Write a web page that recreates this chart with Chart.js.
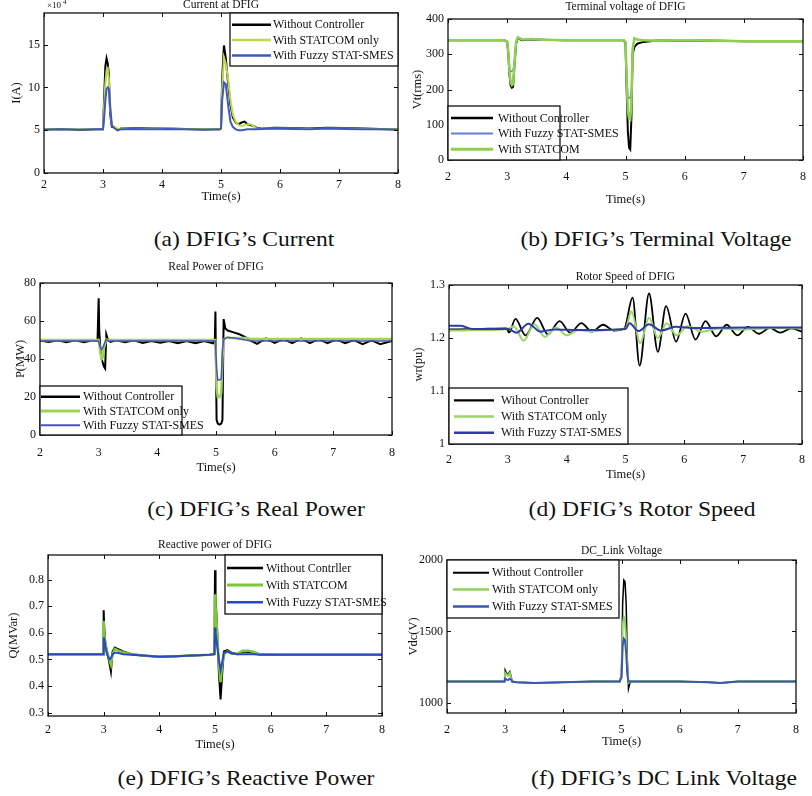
<!DOCTYPE html>
<html>
<head>
<meta charset="utf-8">
<title>DFIG responses</title>
<script src="https://cdn.jsdelivr.net/npm/chart.js@4.4.1/dist/chart.umd.min.js"></script>
<style>
  body { margin: 0; width: 812px; height: 796px; overflow: hidden; background: #fff; position: relative; font-family: "Liberation Serif", serif; }
  canvas { position: absolute; }
  .cap { position: absolute; font-size: 22px; color: #111; white-space: nowrap; transform: translate(-50%, -50%) scaleX(1.07); }
</style>
</head>
<body>
<div class="cap" style="left:244px;top:239px">(a) DFIG’s Current</div>
<div class="cap" style="left:656px;top:239px">(b) DFIG’s Terminal Voltage</div>
<div class="cap" style="left:256px;top:509px">(c) DFIG’s Real Power</div>
<div class="cap" style="left:642px;top:509px">(d) DFIG’s Rotor Speed</div>
<div class="cap" style="left:246px;top:778px">(e) DFIG’s Reactive Power</div>
<div class="cap" style="left:664px;top:778px">(f) DFIG’s DC Link Voltage</div>
<script>
// shared x axis
const timeTicks = [2, 3, 4, 5, 6, 7, 8];

// (a) current at DFIG, in 1e4 A
const curT = [2, 2.3, 2.6, 2.9, 3.0, 3.02, 3.04, 3.06, 3.08, 3.1, 3.12, 3.15, 3.2, 3.25, 3.3, 3.5, 3.8, 4.1, 4.4, 4.7, 4.98, 5.0, 5.02, 5.05, 5.08, 5.12, 5.16, 5.2, 5.25, 5.3, 5.35, 5.4, 5.45, 5.5, 5.55, 5.6, 5.7, 5.9, 6.2, 6.5, 6.8, 7.1, 7.4, 7.7, 8.0];
const curNoCtrl = [5.1, 5.15, 5.05, 5.1, 5.1, 9.0, 12.5, 13.4, 12.8, 11.5, 7.0, 5.4, 5.3, 5.0, 5.2, 5.25, 5.2, 5.2, 5.15, 5.1, 5.1, 5.2, 11.0, 14.9, 13.5, 10.5, 8.0, 6.5, 5.9, 5.7, 5.9, 6.0, 5.7, 5.6, 5.5, 5.3, 5.2, 5.3, 5.25, 5.2, 5.3, 5.25, 5.2, 5.15, 5.1];
const curStatcom = [5.1, 5.1, 5.1, 5.1, 5.1, 8.0, 10.5, 12.0, 12.2, 11.0, 7.5, 5.6, 5.4, 5.1, 5.2, 5.2, 5.15, 5.2, 5.1, 5.1, 5.1, 5.2, 10.0, 13.5, 12.8, 11.0, 8.5, 6.8, 6.0, 5.6, 5.5, 5.6, 5.7, 5.7, 5.5, 5.2, 5.2, 5.2, 5.2, 5.15, 5.2, 5.2, 5.15, 5.1, 5.1];
const curFuzzy = [5.05, 5.1, 5.05, 5.1, 5.1, 6.5, 8.5, 9.8, 10.0, 9.8, 8.0, 5.5, 5.2, 5.0, 5.1, 5.15, 5.1, 5.15, 5.1, 5.05, 5.1, 5.2, 8.5, 10.6, 10.4, 8.0, 6.0, 5.4, 5.1, 5.0, 5.0, 5.05, 5.1, 5.1, 5.1, 5.1, 5.15, 5.2, 5.15, 5.1, 5.2, 5.15, 5.1, 5.1, 5.05];
const curTicks = [0, 5, 10, 15];

// (b) terminal voltage, V rms
const vtT = [2, 2.5, 2.95, 3.0, 3.02, 3.04, 3.06, 3.08, 3.1, 3.12, 3.15, 3.18, 3.25, 3.4, 3.6, 4.0, 4.5, 4.97, 5.0, 5.02, 5.04, 5.06, 5.08, 5.1, 5.12, 5.15, 5.2, 5.3, 5.5, 5.8, 6.2, 6.6, 7.0, 7.5, 8];
const vtNoCtrl = [340, 340, 340, 335, 300, 240, 210, 205, 208, 260, 330, 345, 340, 342, 341, 340, 340, 340, 330, 200, 80, 35, 30, 120, 300, 320, 330, 335, 338, 340, 339, 338, 337, 337, 337];
const vtFuzzy = [340, 340, 340, 338, 310, 262, 250, 252, 255, 275, 330, 345, 341, 342, 341, 340, 340, 340, 335, 240, 180, 175, 178, 200, 320, 343, 342, 340, 339, 341, 340, 338, 337, 337, 337];
const vtStatcom = [340, 340, 340, 336, 305, 250, 220, 212, 215, 265, 335, 348, 342, 343, 341, 340, 340, 340, 335, 230, 140, 118, 115, 160, 310, 345, 342, 340, 338, 340, 340, 338, 337, 337, 337];
const vtTicks = [0, 100, 200, 300, 400];

// (c) real power, MW
const pT = [2, 2.15, 2.3, 2.45, 2.6, 2.75, 2.9, 2.98, 3.0, 3.01, 3.03, 3.05, 3.07, 3.09, 3.11, 3.13, 3.16, 3.2, 3.3, 3.45, 3.6, 3.75, 3.9, 4.05, 4.2, 4.35, 4.5, 4.65, 4.8, 4.95, 4.98, 4.99, 5.01, 5.03, 5.06, 5.09, 5.11, 5.13, 5.16, 5.2, 5.3, 5.4, 5.5, 5.6, 5.7, 5.85, 6.0, 6.15, 6.3, 6.45, 6.6, 6.75, 6.9, 7.05, 7.2, 7.35, 7.5, 7.65, 7.8, 8.0];
const pNoCtrl = [49.8, 49, 49.8, 48.8, 49.8, 48.8, 49.8, 49.5, 72, 55, 45, 40, 38, 36, 35, 53, 50, 49, 49.8, 48.8, 49.8, 48.5, 49.5, 48.5, 49.5, 48.3, 49.5, 48.3, 49.5, 48.3, 50, 65, 8, 6, 5.5, 6, 8, 61, 56, 55, 54, 53, 51.5, 49.5, 48, 50.8, 48.5, 50.5, 48.3, 50.8, 48.3, 50.5, 48.3, 50.3, 48.3, 50, 47.8, 49.8, 47.8, 49.5];
const pStatcom = [50, 50, 50, 50, 50, 50, 50, 50, 50, 48, 43, 40, 41, 46, 48, 50.5, 50, 50, 50, 50, 50, 50, 50, 50, 50, 50, 50, 50, 50, 50, 50, 50, 25, 20, 20, 22, 40, 50, 51, 51, 51, 51, 51, 50.5, 50.5, 50.5, 50.5, 50.5, 50.5, 50.5, 50.5, 50.5, 50.5, 50.5, 50.5, 50.5, 50.5, 50.5, 50.5, 50.5];
const pFuzzy = [49.5, 49.5, 49.5, 49.5, 49.5, 49.5, 49.5, 49.5, 49.5, 48, 46, 45, 46, 47.5, 49, 50.5, 49.5, 49.5, 49.5, 49.5, 49.5, 49.5, 49.5, 49.5, 49.5, 49.5, 49.5, 49.5, 49.5, 49.5, 49.5, 49.5, 35, 29, 29, 29.5, 45, 50, 51, 51.5, 51, 50.5, 50, 49.5, 49.5, 49.5, 49.5, 49.5, 49.5, 49.5, 49.5, 49.5, 49.5, 49.5, 49.5, 49.5, 49.5, 49.5, 49.5, 49.5];
const pTicks = [0, 20, 40, 60, 80];

// (d) rotor speed, pu (peaks and troughs)
const wNoCtrlT = [2, 2.5, 2.98, 3.02, 3.13, 3.3, 3.5, 3.68, 3.88, 4.06, 4.25, 4.43, 4.62, 4.8, 4.98, 5.12, 5.24, 5.4, 5.55, 5.69, 5.86, 6.02, 6.19, 6.36, 6.54, 6.72, 6.9, 7.08, 7.27, 7.45, 7.63, 7.82, 8.0];
const wNoCtrl = [1.216, 1.217, 1.218, 1.21, 1.236, 1.205, 1.238, 1.207, 1.232, 1.21, 1.228, 1.212, 1.225, 1.214, 1.218, 1.276, 1.148, 1.284, 1.174, 1.26, 1.193, 1.246, 1.197, 1.232, 1.203, 1.225, 1.205, 1.221, 1.208, 1.219, 1.21, 1.218, 1.212];
const wStatcomT = [2, 2.5, 3.0, 3.1, 3.27, 3.45, 3.63, 3.82, 4.0, 4.2, 4.4, 4.7, 5.0, 5.1, 5.25, 5.4, 5.55, 5.7, 5.87, 6.05, 6.3, 6.6, 7.0, 7.5, 8];
const wStatcom = [1.214, 1.215, 1.217, 1.222, 1.195, 1.226, 1.202, 1.22, 1.205, 1.215, 1.212, 1.215, 1.218, 1.25, 1.19, 1.238, 1.2, 1.228, 1.205, 1.222, 1.212, 1.218, 1.216, 1.219, 1.218];
const wFuzzyT = [2, 2.2, 2.4, 3.0, 3.15, 3.35, 3.55, 3.8, 4.2, 5.0, 5.07, 5.22, 5.4, 5.6, 5.85, 6.2, 7, 8];
const wFuzzy = [1.223, 1.223, 1.217, 1.217, 1.21, 1.227, 1.212, 1.216, 1.215, 1.217, 1.228, 1.213, 1.226, 1.214, 1.221, 1.219, 1.22, 1.22];
const wTicks = [1, 1.1, 1.2, 1.3];

// (e) reactive power, MVar
const qT = [2, 2.99, 3.0, 3.01, 3.03, 3.06, 3.1, 3.13, 3.16, 3.2, 3.25, 3.35, 3.5, 3.7, 4.0, 4.3, 4.6, 4.9, 4.99, 5.0, 5.01, 5.04, 5.07, 5.1, 5.13, 5.16, 5.22, 5.3, 5.4, 5.5, 5.6, 5.7, 5.8, 6.2, 8];
const qNoCtrl = [0.52, 0.52, 0.685, 0.62, 0.56, 0.53, 0.49, 0.455, 0.53, 0.545, 0.54, 0.53, 0.52, 0.515, 0.51, 0.512, 0.515, 0.518, 0.52, 0.835, 0.74, 0.6, 0.45, 0.35, 0.45, 0.53, 0.535, 0.525, 0.52, 0.53, 0.528, 0.525, 0.52, 0.518, 0.518];
const qStatcom = [0.52, 0.52, 0.645, 0.6, 0.56, 0.53, 0.5, 0.48, 0.52, 0.54, 0.535, 0.527, 0.52, 0.515, 0.51, 0.512, 0.515, 0.518, 0.52, 0.745, 0.7, 0.6, 0.48, 0.415, 0.48, 0.52, 0.53, 0.522, 0.522, 0.533, 0.533, 0.528, 0.52, 0.518, 0.518];
const qFuzzy = [0.52, 0.52, 0.58, 0.58, 0.55, 0.52, 0.5, 0.505, 0.52, 0.525, 0.525, 0.52, 0.518, 0.515, 0.51, 0.512, 0.515, 0.518, 0.52, 0.62, 0.6, 0.55, 0.5, 0.46, 0.49, 0.525, 0.53, 0.523, 0.52, 0.52, 0.52, 0.52, 0.518, 0.518, 0.518];
const qTicks = [0.3, 0.4, 0.5, 0.6, 0.7, 0.8];

// (f) DC link voltage, V
const vdcT = [2, 2.99, 3.0, 3.02, 3.05, 3.08, 3.1, 3.12, 3.2, 3.5, 4.0, 4.5, 4.97, 5.0, 5.02, 5.04, 5.06, 5.08, 5.1, 5.12, 5.15, 5.2, 5.5, 6.0, 6.5, 6.7, 7.0, 8];
const vdcNoCtrl = [1150, 1150, 1230, 1210, 1200, 1220, 1190, 1150, 1145, 1140, 1145, 1150, 1150, 1200, 1700, 1860, 1850, 1700, 1300, 1100, 1150, 1150, 1150, 1150, 1145, 1140, 1150, 1150];
const vdcStatcom = [1150, 1150, 1210, 1200, 1190, 1210, 1180, 1150, 1145, 1140, 1145, 1150, 1150, 1200, 1550, 1600, 1580, 1450, 1250, 1140, 1150, 1150, 1150, 1150, 1145, 1140, 1150, 1150];
const vdcFuzzy = [1150, 1150, 1170, 1165, 1160, 1170, 1165, 1150, 1145, 1140, 1145, 1150, 1150, 1180, 1400, 1450, 1440, 1350, 1200, 1150, 1150, 1150, 1150, 1150, 1145, 1140, 1150, 1150];
const vdcTicks = [1000, 1500, 2000];

const SERIF = '"Liberation Serif", "Times New Roman", serif';
const INK = '#111';
const X_AXIS_H = 54;

function pts(t, v) {
    return t.map((x, i) => ({x: x, y: v[i]}));
}

// matlab look: boxed axes, inward ticks, title, legend inside the axes
const matlabAxes = {
    id: 'matlabAxes',
    afterDraw(chart, args, o) {
        const {ctx, chartArea: a, scales: {x, y}} = chart;
        ctx.save();
        ctx.strokeStyle = INK;
        ctx.lineWidth = 1;
        ctx.beginPath();
        x.ticks.forEach(t => {
            const px = Math.round(x.getPixelForValue(t.value)) + 0.5;
            ctx.moveTo(px, a.bottom); ctx.lineTo(px, a.bottom - 4);
            ctx.moveTo(px, a.top); ctx.lineTo(px, a.top + 4);
        });
        y.ticks.forEach(t => {
            const py = Math.round(y.getPixelForValue(t.value)) + 0.5;
            ctx.moveTo(a.left, py); ctx.lineTo(a.left + 4, py);
            ctx.moveTo(a.right, py); ctx.lineTo(a.right - 4, py);
        });
        ctx.stroke();
        ctx.lineWidth = 1.3;
        ctx.strokeRect(a.left, a.top, a.right - a.left, a.bottom - a.top);

        ctx.fillStyle = INK;
        ctx.font = '11.5px ' + SERIF;
        ctx.textAlign = 'center';
        ctx.textBaseline = 'middle';
        ctx.fillText(o.title, (a.left + a.right) / 2, a.top - o.titleGap);

        if (o.exponent) {
            ctx.textAlign = 'left';
            ctx.font = '9px ' + SERIF;
            ctx.fillText('×10', a.left + 3, a.top - 7);
            ctx.font = '7px ' + SERIF;
            ctx.fillText(o.exponent, a.left + 19, a.top - 11);
        }

        const lg = o.legend;
        const bx = lg.at[1] === 'r' ? a.right - lg.w : a.left;
        const by = lg.at[0] === 'b' ? a.bottom - lg.h : a.top;
        ctx.fillStyle = '#fff';
        ctx.fillRect(bx, by, lg.w, lg.h);
        ctx.lineWidth = 1.3;
        ctx.strokeRect(bx, by, lg.w, lg.h);
        ctx.font = '12px ' + SERIF;
        ctx.textAlign = 'left';
        chart.data.datasets.forEach((ds, i) => {
            const ry = by + lg.h * (0.22 + 0.29 * i);
            ctx.strokeStyle = ds.borderColor;
            ctx.lineWidth = ds.borderWidth + 0.5;
            ctx.beginPath();
            ctx.moveTo(bx + lg.start, ry);
            ctx.lineTo(bx + lg.start + lg.len, ry);
            ctx.stroke();
            ctx.fillStyle = INK;
            ctx.fillText(ds.label, bx + lg.text, ry + 0.5);
        });
        ctx.restore();
    }
};

const panels = [
    {
        L: 44, R: 400, T: 13, B: 173, title: 'Current at DFIG', titleGap: 8, exponent: '4',
        yTitle: 'I(A)', yTitleX: 17, yMin: 0, yMax: 18.7, yTicks: curTicks, xPad: 5, xTitleY: 197,
        legend: {at: 'tr', w: 168, h: 53, start: 2, len: 39, text: 43},
        series: [
            {label: 'Without Controller', t: curT, v: curNoCtrl, color: '#000000', width: 2, order: 3},
            {label: 'With STATCOM only', t: curT, v: curStatcom, color: '#bcd94c', width: 2, order: 2},
            {label: 'With Fuzzy STAT-SMES', t: curT, v: curFuzzy, color: '#3f58c0', width: 2, order: 1}
        ]
    },
    {
        L: 448, R: 810, T: 19, B: 160, title: 'Terminal voltage of DFIG', titleGap: 12,
        yTitle: 'Vt(rms)', yTitleX: 418, yMin: 0, yMax: 400, yTicks: vtTicks, xPad: 10, xTitleY: 200,
        legend: {at: 'bl', w: 112, h: 54, start: 3, len: 42, text: 50},
        series: [
            {label: 'Without Controller', t: vtT, v: vtNoCtrl, color: '#000000', width: 2, order: 3},
            {label: 'With Fuzzy STAT-SMES', t: vtT, v: vtFuzzy, color: '#6680d4', width: 1.5, order: 2},
            {label: 'With STATCOM', t: vtT, v: vtStatcom, color: '#8fd14f', width: 2.5, order: 1}
        ]
    },
    {
        L: 40, R: 400, T: 283, B: 435, title: 'Real Power of DFIG', titleGap: 16,
        yTitle: 'P(MW)', yTitleX: 21, yMin: 0, yMax: 80, yTicks: pTicks, xPad: 11, xTitleY: 468,
        legend: {at: 'bl', w: 142, h: 49, start: 1, len: 39, text: 43},
        series: [
            {label: 'Without Controller', t: pT, v: pNoCtrl, color: '#000000', width: 2, order: 3},
            {label: 'With STATCOM only', t: pT, v: pStatcom, color: '#9bd553', width: 2.5, order: 2},
            {label: 'With Fuzzy STAT-SMES', t: pT, v: pFuzzy, color: '#4f4fc0', width: 1.5, order: 1}
        ]
    },
    {
        L: 449, R: 808, T: 285, B: 444, title: 'Rotor Speed of DFIG', titleGap: 8, smooth: true,
        yTitle: 'wr(pu)', yTitleX: 419, yMin: 1, yMax: 1.3, yTicks: wTicks, xPad: 9, xTitleY: 475,
        legend: {at: 'bl', w: 179, h: 56, start: 5, len: 40, text: 52},
        series: [
            {label: 'Wihout Controller', t: wNoCtrlT, v: wNoCtrl, color: '#000000', width: 1.8, order: 3},
            {label: 'With STATCOM only', t: wStatcomT, v: wStatcom, color: '#9ad36a', width: 2, order: 2},
            {label: 'With Fuzzy STAT-SMES', t: wFuzzyT, v: wFuzzy, color: '#2f3aa8', width: 2, order: 1}
        ]
    },
    {
        L: 48, R: 386, T: 555, B: 716, title: 'Reactive power of DFIG', titleGap: 10,
        yTitle: 'Q(MVar)', yTitleX: 14, yMin: 0.288, yMax: 0.892, yTicks: qTicks, xPad: 7, xTitleY: 745,
        legend: {at: 'tr', w: 157, h: 59, start: 2, len: 36, text: 41},
        series: [
            {label: 'Without Contrller', t: qT, v: qNoCtrl, color: '#000000', width: 2, order: 3},
            {label: 'With STATCOM', t: qT, v: qStatcom, color: '#7cc63a', width: 2.5, order: 2},
            {label: 'With Fuzzy STAT-SMES', t: qT, v: qFuzzy, color: '#2a48c0', width: 2, order: 1}
        ]
    },
    {
        L: 447, R: 803, T: 560, B: 713, title: 'DC_Link Voltage', titleGap: 9,
        yTitle: 'Vdc(V)', yTitleX: 414, yMin: 930, yMax: 2000, yTicks: vdcTicks, xPad: 10, xTitleY: 742,
        legend: {at: 'tl', w: 172, h: 58, start: 6, len: 36, text: 45},
        series: [
            {label: 'Without Controller', t: vdcT, v: vdcNoCtrl, color: '#000000', width: 1.5, order: 3},
            {label: 'With STATCOM only', t: vdcT, v: vdcStatcom, color: '#8ed05a', width: 2, order: 2},
            {label: 'With Fuzzy STAT-SMES', t: vdcT, v: vdcFuzzy, color: '#3a56b8', width: 2, order: 1}
        ]
    }
];

function makePanel(p) {
    const left = p.L - 46, top = p.T - 22;
    const w = p.R - p.L + 46 + 6, h = p.B - p.T + 22 + X_AXIS_H;
    const cv = document.createElement('canvas');
    cv.width = w; cv.height = h;
    cv.style.left = left + 'px'; cv.style.top = top + 'px';
    cv.style.width = w + 'px'; cv.style.height = h + 'px';
    document.body.appendChild(cv);

    const tickFont = {family: SERIF, size: 12};
    const titleFont = {family: SERIF, size: 12.5, lineHeight: 1.2};

    new Chart(cv, {
        type: 'line',
        data: {
            datasets: p.series.map(s => ({
                label: s.label,
                data: pts(s.t, s.v),
                borderColor: s.color,
                borderWidth: s.width,
                order: s.order,
                pointRadius: 0,
                fill: false,
                tension: 0,
                cubicInterpolationMode: p.smooth ? 'monotone' : 'default'
            }))
        },
        options: {
            responsive: false,
            animation: false,
            events: [],
            layout: {padding: {left: 0, right: 6, top: 22, bottom: 0}},
            plugins: {
                legend: {display: false},
                tooltip: {enabled: false},
                matlabAxes: {title: p.title, titleGap: p.titleGap, exponent: p.exponent, legend: p.legend}
            },
            scales: {
                x: {
                    type: 'linear', min: 2, max: 8,
                    afterBuildTicks: s => { s.ticks = timeTicks.map(v => ({value: v})); },
                    afterFit: s => { s.height = X_AXIS_H; },
                    grid: {display: false, drawTicks: false},
                    border: {display: false},
                    ticks: {font: tickFont, color: INK, padding: p.xPad, maxRotation: 0, autoSkip: false},
                    title: {display: true, text: 'Time(s)', font: titleFont, color: INK,
                        padding: {top: 0, bottom: p.B + X_AXIS_H - p.xTitleY - 7.5}}
                },
                y: {
                    type: 'linear', min: p.yMin, max: p.yMax,
                    afterBuildTicks: s => { s.ticks = p.yTicks.map(v => ({value: v})); },
                    afterFit: s => { s.width = 46; },
                    grid: {display: false, drawTicks: false},
                    border: {display: false},
                    ticks: {font: tickFont, color: INK, padding: 4, callback: v => String(v)},
                    title: {display: true, text: p.yTitle, font: titleFont, color: INK,
                        padding: {top: p.yTitleX - left - 7.5, bottom: 0}}
                }
            }
        },
        plugins: [matlabAxes]
    });
}

panels.forEach(makePanel);
</script>
</body>
</html>
